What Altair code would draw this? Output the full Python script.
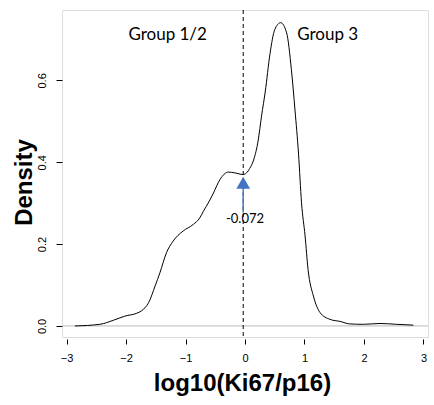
import altair as alt
import pandas as pd

# density curve
xs = [-2.86, -2.44, -2.21, -2.02, -1.82, -1.74, -1.62, -1.51, -1.43, -1.32, -1.21,
      -1.04, -0.87, -0.76, -0.70, -0.60, -0.53, -0.42, -0.28, -0.17, -0.03, 0.08,
      0.15, 0.22, 0.28, 0.34, 0.42, 0.50, 0.60, 0.70, 0.78, 0.84, 0.90, 0.95, 1.01, 1.06,
      1.15, 1.26, 1.43, 1.60, 1.76, 1.99, 2.27, 2.55, 2.83]
dens = [0.000, 0.004, 0.014, 0.024, 0.031, 0.037, 0.057, 0.098, 0.130, 0.179, 0.207,
        0.232, 0.248, 0.264, 0.280, 0.305, 0.325, 0.358, 0.376, 0.374, 0.370, 0.385,
        0.408, 0.452, 0.515, 0.572, 0.665, 0.724, 0.741, 0.716, 0.626, 0.528, 0.420, 0.301,
        0.220, 0.138, 0.073, 0.033, 0.016, 0.011, 0.005, 0.004, 0.006, 0.004, 0.002]

cutoff = -0.03
cutoff_label = "-0.072"
groups = ["Group 1/2", "Group 3"]
group_x = [-1.30, 1.39]
group_y = [0.71, 0.71]
x_ticks = [-3, -2, -1, 0, 1, 2, 3]
y_ticks = [0.0, 0.2, 0.4, 0.6]

W, H = 366, 327
xdom = [-3.076, 3.076]
ydom = [-0.027, 0.772]

curve_df = pd.DataFrame({"x": xs, "d": dens})
xs_ = alt.Scale(domain=xdom, nice=False, zero=False)
ys_ = alt.Scale(domain=ydom, nice=False, zero=False)

xax = alt.Axis(values=x_ticks, format="d", title="log10(Ki67/p16)", grid=False, domain=False,
               offset=2, tickSize=5, tickColor="black", labelPadding=8,
               labelFont="Liberation Sans", labelFontSize=11, labelColor="black",
               titleFont="Liberation Sans", titleFontSize=24, titleFontWeight="bold",
               titleColor="black", titleBaseline="middle", titleY=44, titleX=180)
yax = alt.Axis(values=y_ticks, format=".1f", title="Density", grid=False, domain=False,
               tickSize=6, tickColor="black", labelPadding=9, labelAngle=270,
               labelAlign="center", labelBaseline="bottom",
               labelFont="Liberation Sans", labelFontSize=11, labelColor="black",
               titleFont="Liberation Sans", titleFontSize=24, titleFontWeight="bold",
               titleColor="black", titleAngle=270, titleAlign="center",
               titleBaseline="middle", titleX=-38, titleY=172)

zero_line = alt.Chart(pd.DataFrame({"y": [0.0]})).mark_rule(
    color="#b8b8b8", strokeWidth=1).encode(y=alt.Y("y:Q", scale=ys_, axis=yax))

curve = alt.Chart(curve_df).mark_line(color="black", strokeWidth=1, interpolate="monotone").encode(
    x=alt.X("x:Q", scale=xs_, axis=xax),
    y=alt.Y("d:Q", scale=ys_),
)

vline = alt.Chart(pd.DataFrame({"x": [cutoff]})).mark_rule(
    color="black", strokeWidth=1, strokeDash=[4, 3]).encode(x=alt.X("x:Q", scale=xs_))

shaft = alt.Chart(pd.DataFrame({"x": [cutoff], "y1": [0.335], "y2": [0.277]})).mark_rule(
    color="#4a78c8", strokeWidth=1.5).encode(
    x=alt.X("x:Q", scale=xs_), y=alt.Y("y1:Q", scale=ys_), y2="y2:Q")

head = alt.Chart(pd.DataFrame({"x": [cutoff], "y": [0.350]})).mark_point(
    shape="triangle-up", size=190, filled=True, opacity=1, color="#4472C4").encode(
    x=alt.X("x:Q", scale=xs_), y=alt.Y("y:Q", scale=ys_))

val_label = alt.Chart(pd.DataFrame({"x": [0.0], "y": [0.262], "t": [cutoff_label]})).mark_text(
    font="Lato", fontSize=13, color="black", baseline="middle", align="center").encode(
    x=alt.X("x:Q", scale=xs_), y=alt.Y("y:Q", scale=ys_), text="t:N")

grp = alt.Chart(pd.DataFrame({"x": group_x, "y": group_y, "t": groups})).mark_text(
    font="Lato", fontSize=17, color="black", baseline="middle", align="center").encode(
    x=alt.X("x:Q", scale=xs_), y=alt.Y("y:Q", scale=ys_), text="t:N")

chart = alt.layer(zero_line, curve, vline, shaft, head, val_label, grp).properties(
    width=W, height=H,
    autosize=alt.AutoSizeParams(type="none"),
    padding={"left": 62, "top": 10, "right": 6, "bottom": 68},
).configure_view(stroke="black", strokeWidth=1.3).configure(background="white")

chart.save("out.html", embed_options={"renderer": "svg", "actions": False})
